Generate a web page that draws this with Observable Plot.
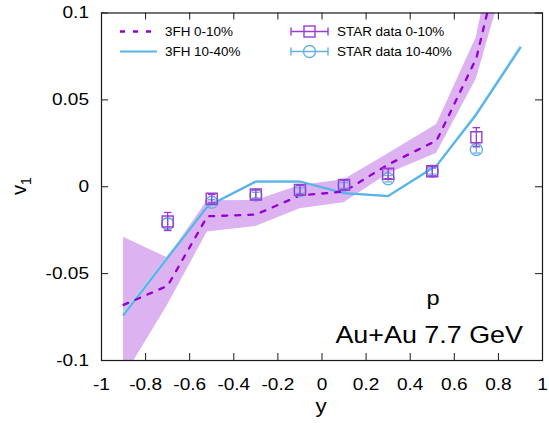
<!DOCTYPE html>
<html>
<head>
<meta charset="utf-8">
<script src="https://cdn.jsdelivr.net/npm/d3@7"></script>
<script src="https://cdn.jsdelivr.net/npm/@observablehq/plot@0.6"></script>
<style>
  body { margin: 0; background: #fff; }
  svg text { font-family: "Liberation Sans", Arial, Helvetica, sans-serif; }
</style>
</head>
<body>
<div id="chart"></div>
<script>
// 3FH hydro: directed flow of protons vs rapidity, Au+Au 7.7 GeV
const modelRapidity = [-0.9, -0.7, -0.52, -0.3, -0.1, 0.1, 0.3, 0.52, 0.7, 0.9];
const v1Central3FH     = [-0.068, -0.057, -0.017, -0.016, -0.005, -0.0028, 0.0128, 0.0266, 0.074, 0.18];
const v1Central3FHLow  = [-0.110, -0.068, -0.026, -0.0229, -0.0127, -0.0092, 0.0075, 0.0193, 0.062, 0.15];
const v1Central3FHHigh = [-0.029, -0.041, -0.008, -0.0079, 0.0007, 0.0040, 0.0190, 0.0358, 0.086, 0.21];
const v1Mid3FH     = [-0.0737, -0.0408, -0.0114, 0.0030, 0.0030, -0.0037, -0.0054, 0.0122, 0.0416, 0.0800];
const v1Mid3FHLow  = [-0.0752, -0.0418, -0.0119, 0.0027, 0.0027, -0.0040, -0.0057, 0.0117, 0.0406, 0.0785];
const v1Mid3FHHigh = [-0.0722, -0.0398, -0.0109, 0.0033, 0.0033, -0.0034, -0.0051, 0.0127, 0.0426, 0.0815];

// STAR measurements
const starRapidity = [-0.7, -0.5, -0.3, -0.1, 0.1, 0.3, 0.5, 0.7];
const v1StarCentral    = [-0.020, -0.0069, -0.0045, -0.0018, 0.0011, 0.0075, 0.0089, 0.0285];
const v1StarCentralErr = [0.0052, 0.0024, 0.0026, 0.0026, 0.0026, 0.0028, 0.0026, 0.0055];
const v1StarMid    = [-0.0213, -0.0089, -0.0048, -0.0022, 0.0008, 0.0046, 0.0089, 0.0214];
const v1StarMidErr = [0.0030, 0.0016, 0.0016, 0.0016, 0.0016, 0.0018, 0.0016, 0.0020];

const xTicks = [-1, -0.8, -0.6, -0.4, -0.2, 0, 0.2, 0.4, 0.6, 0.8, 1];
const yTicks = [-0.1, -0.05, 0, 0.05, 0.1];

const seriesLabels = ["3FH 0-10%", "3FH 10-40%", "STAR data 0-10%", "STAR data 10-40%"];

const colors = {
  band: "#dcb2f0",
  dash: "#9400d3",
  blue: "#56b4e9",
  blueBand: "#b5dcf3",
  square: "#9a3cd4",
  circle: "#64b2e2",
  axis: "#1a1a1a"
};

const model = modelRapidity.map((y, i) => ({
  y,
  c: v1Central3FH[i], cLo: v1Central3FHLow[i], cHi: v1Central3FHHigh[i],
  m: v1Mid3FH[i], mLo: v1Mid3FHLow[i], mHi: v1Mid3FHHigh[i]
}));
const starCentral = starRapidity.map((y, i) => ({y, v: v1StarCentral[i], e: v1StarCentralErr[i]}));
const starMid = starRapidity.map((y, i) => ({y, v: v1StarMid[i], e: v1StarMidErr[i]}));

// horizontal cap for error bars
const capSymbol = {
  draw(ctx, size) {
    const w = Math.sqrt(size / Math.PI);
    ctx.moveTo(-w, 0);
    ctx.lineTo(w, 0);
  }
};

function errorMarks(data, color, symbol, r) {
  return [
    Plot.ruleX(data, {x: "y", y1: d => d.v - d.e, y2: d => d.v + d.e, stroke: color, strokeWidth: 1.3}),
    Plot.dot(data, {x: "y", y: d => d.v + d.e, symbol: capSymbol, r: 3.8, stroke: color, fill: "none", strokeWidth: 1.3}),
    Plot.dot(data, {x: "y", y: d => d.v - d.e, symbol: capSymbol, r: 3.8, stroke: color, fill: "none", strokeWidth: 1.3}),
    Plot.dot(data, {x: "y", y: "v", symbol, r, stroke: color, fill: "none", strokeWidth: 1.4})
  ];
}

const W = 549, H = 423;
const mL = 101, mR = 7, mT = 12.5, mB = 63;
const frameW = W - mL - mR, frameH = H - mT - mB;
const tickLen = 7;

const chart = Plot.plot({
  width: W,
  height: H,
  marginLeft: mL,
  marginRight: mR,
  marginTop: mT,
  marginBottom: mB,
  style: {background: "#fff", color: colors.axis, fontFamily: "Liberation Sans, Arial, sans-serif"},
  x: {domain: [-1, 1]},
  y: {domain: [-0.1, 0.1]},
  marks: [
    Plot.areaY(model, {x: "y", y1: "cLo", y2: "cHi", fill: colors.band, clip: true}),
    Plot.areaY(model, {x: "y", y1: "mLo", y2: "mHi", fill: colors.blueBand, clip: true}),
    Plot.line(model, {x: "y", y: "m", stroke: colors.blue, strokeWidth: 2.2, clip: true}),
    Plot.line(model, {x: "y", y: "c", stroke: colors.dash, strokeWidth: 2.3, strokeDasharray: "5,8", clip: true}),
    ...errorMarks(starMid, colors.circle, "circle", 6),
    ...errorMarks(starCentral, colors.square, "square", 6.2),
    // inward ticks on all four sides
    Plot.tickX(xTicks, {x: d => d, insetTop: frameH - tickLen, stroke: colors.axis}),
    Plot.tickX(xTicks, {x: d => d, insetBottom: frameH - tickLen, stroke: colors.axis}),
    Plot.tickY(yTicks, {y: d => d, insetRight: frameW - tickLen, stroke: colors.axis}),
    Plot.tickY(yTicks, {y: d => d, insetLeft: frameW - tickLen, stroke: colors.axis}),
    Plot.axisX(xTicks, {tickSize: 0, tickPadding: 17, tickFormat: d => String(d), fontSize: 17, label: null, fill: "#000"}),
    Plot.axisY(yTicks, {tickSize: 0, tickPadding: 12.5, tickFormat: d => String(d), fontSize: 17, label: null, fill: "#000"}),
    Plot.frame({stroke: colors.axis, strokeWidth: 1.2})
  ]
});

document.getElementById("chart").appendChild(chart);

const svg = d3.select(chart);
const stretched = [];

// axis titles
const yLab = svg.append("text")
  .attr("transform", "translate(26,186) rotate(-90)")
  .attr("text-anchor", "middle")
  .attr("font-size", 20)
  .attr("fill", "#000");
yLab.append("tspan").text("v");
yLab.append("tspan").attr("font-size", 14).attr("dy", 5).text("1");

stretched.push(svg.append("text")
  .attr("x", 321).attr("y", 413)
  .attr("text-anchor", "middle")
  .attr("font-size", 20)
  .attr("fill", "#000")
  .text("y"));

// system annotation
stretched.push(svg.append("text")
  .attr("x", 433).attr("y", 305)
  .attr("text-anchor", "middle")
  .attr("font-size", 21)
  .attr("fill", "#000")
  .text("p"));
stretched.push(svg.append("text")
  .attr("x", 523).attr("y", 342.5)
  .attr("text-anchor", "end")
  .attr("font-size", 24)
  .attr("fill", "#000")
  .text("Au+Au 7.7 GeV"));

// legend
const leg = svg.append("g").attr("text-anchor", "start");
const row1 = 31.5, row2 = 51.5;
leg.append("line").attr("x1", 120).attr("x2", 157).attr("y1", row1).attr("y2", row1)
  .attr("stroke", colors.dash).attr("stroke-width", 2.3).attr("stroke-dasharray", "5,8");
leg.append("line").attr("x1", 120).attr("x2", 157).attr("y1", row2).attr("y2", row2)
  .attr("stroke", colors.blue).attr("stroke-width", 2.2);

function legendErr(cy, color, shape) {
  const g = leg.append("g").attr("stroke", color).attr("fill", "none").attr("stroke-width", 1.4);
  g.append("line").attr("x1", 291).attr("x2", 328).attr("y1", cy).attr("y2", cy);
  g.append("line").attr("x1", 291).attr("x2", 291).attr("y1", cy - 4).attr("y2", cy + 4);
  g.append("line").attr("x1", 328).attr("x2", 328).attr("y1", cy - 4).attr("y2", cy + 4);
  if (shape === "square") {
    g.append("rect").attr("x", 309.5 - 5.5).attr("y", cy - 5.5).attr("width", 11).attr("height", 11);
  } else {
    g.append("circle").attr("cx", 309.5).attr("cy", cy).attr("r", 6);
  }
}
legendErr(row1, colors.square, "square");
legendErr(row2, colors.circle, "circle");

[[165, row1, seriesLabels[0]], [165, row2, seriesLabels[1]],
 [337, row1, seriesLabels[2]], [337, row2, seriesLabels[3]]].forEach(([x, y, t]) => {
  stretched.push(leg.append("text")
    .attr("x", x).attr("y", y + 4.3)
    .attr("text-anchor", "start")
    .attr("font-size", 12)
    .attr("fill", "#000")
    .text(t));
});

// widen glyphs horizontally to the lettering proportions of the figure
const widen = 1.12;
svg.selectAll("g[aria-label$='tick label'] text").each(function() { stretched.push(d3.select(this)); });
stretched.forEach(sel => {
  const node = sel.node();
  const len = node.getComputedTextLength();
  if (len > 0) sel.attr("textLength", len * widen).attr("lengthAdjust", "spacingAndGlyphs");
});
</script>
</body>
</html>
